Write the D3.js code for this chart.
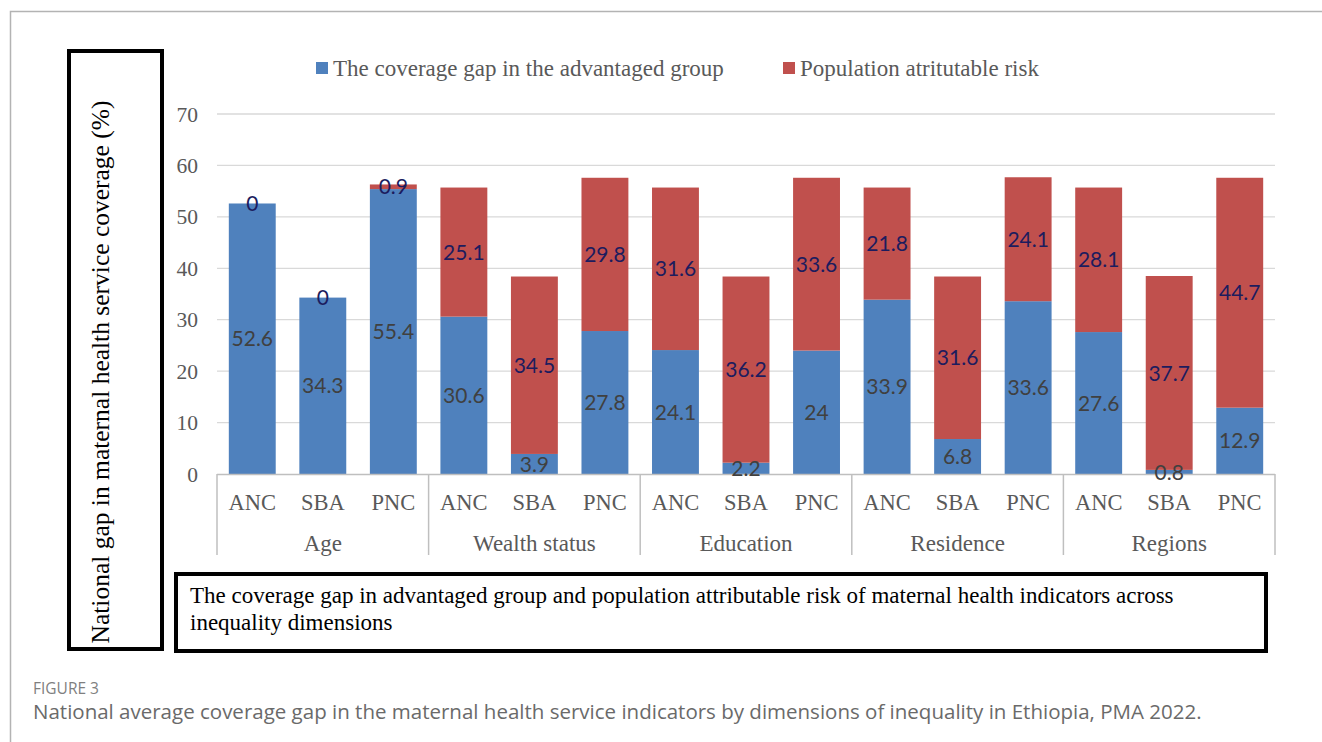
<!DOCTYPE html>
<html>
<head>
<meta charset="utf-8">
<script src="https://cdn.jsdelivr.net/npm/d3@7"></script>
<style>
  body { margin: 0; background: #fff; }
  svg { display: block; }
</style>
</head>
<body>
<script>
// data
const groups = ['Age', 'Wealth status', 'Education', 'Residence', 'Regions']
const indicators = ['ANC', 'SBA', 'PNC']
const gapAdvantaged = [52.6, 34.3, 55.4, 30.6, 3.9, 27.8, 24.1, 2.2, 24, 33.9, 6.8, 33.6, 27.6, 0.8, 12.9]
const attributableRisk = [0, 0, 0.9, 25.1, 34.5, 29.8, 31.6, 36.2, 33.6, 21.8, 31.6, 24.1, 28.1, 37.7, 44.7]
const yTicks = [0, 10, 20, 30, 40, 50, 60, 70]
const seriesNames = ['The coverage gap in the advantaged group', 'Population atritutable risk']

const width = 1322
const height = 742
const colors = { gap: '#4f81bd', par: '#c0504d' }
const serif = '"Liberation Serif", "Times New Roman", serif'

const rows = []
groups.forEach((g, gi) => {
  indicators.forEach((ind, ii) => {
    const k = gi * indicators.length + ii
    rows.push({ key: g + '|' + ind, group: g, ind, gap: gapAdvantaged[k], par: attributableRisk[k] })
  })
})

const svg = d3.select('body').append('svg').attr('width', width).attr('height', height)

// outer page frame (only top/left visible)
svg.append('rect')
  .attr('x', 10.5).attr('y', 11.5).attr('width', 1400).attr('height', 800)
  .attr('fill', 'none').attr('stroke', '#b3b3b3').attr('stroke-width', 1.5)

const x = d3.scaleBand().domain(rows.map((d) => d.key)).range([217, 1275]).paddingInner(0.335).paddingOuter(0.1675)
const y = d3.scaleLinear().domain([0, 70]).range([474, 114])

// gridlines
svg.append('g')
  .selectAll('line')
  .data(yTicks.slice(1))
  .join('line')
  .attr('x1', 217).attr('x2', 1275)
  .attr('y1', (d) => y(d)).attr('y2', (d) => y(d))
  .attr('stroke', '#d9d9d9').attr('stroke-width', 1.3)

// y tick labels
svg.append('g')
  .style('font', `21.5px ${serif}`)
  .attr('fill', '#595959')
  .selectAll('text')
  .data(yTicks)
  .join('text')
  .attr('x', 198)
  .attr('y', (d) => y(d))
  .attr('dy', '0.35em')
  .attr('text-anchor', 'end')
  .text((d) => d)

// stacked bars
const stack = d3.stack().keys(['gap', 'par'])(rows)
svg.append('g')
  .selectAll('g')
  .data(stack)
  .join('g')
  .attr('fill', (s) => colors[s.key])
  .selectAll('rect')
  .data((s) => s)
  .join('rect')
  .attr('x', (d) => x(d.data.key))
  .attr('width', x.bandwidth())
  .attr('y', (d) => y(d[1]))
  .attr('height', (d) => y(d[0]) - y(d[1]))

// x axis line + group separators
svg.append('line')
  .attr('x1', 217).attr('x2', 1275).attr('y1', 474.5).attr('y2', 474.5)
  .attr('stroke', '#bfbfbf').attr('stroke-width', 1.5)

const groupStep = x.step() * indicators.length
svg.append('g')
  .selectAll('line')
  .data(d3.range(groups.length + 1))
  .join('line')
  .attr('x1', (i) => 217 + i * groupStep).attr('x2', (i) => 217 + i * groupStep)
  .attr('y1', 474).attr('y2', 555)
  .attr('stroke', '#bfbfbf').attr('stroke-width', 1.5)

// category labels
svg.append('g')
  .style('font', `22.5px ${serif}`)
  .attr('fill', '#595959')
  .attr('text-anchor', 'middle')
  .selectAll('text')
  .data(rows)
  .join('text')
  .attr('x', (d) => x(d.key) + x.bandwidth() / 2)
  .attr('y', 502)
  .attr('dy', '0.35em')
  .text((d) => d.ind)

svg.append('g')
  .style('font', `23px ${serif}`)
  .attr('fill', '#595959')
  .attr('text-anchor', 'middle')
  .selectAll('text')
  .data(groups)
  .join('text')
  .attr('x', (d, i) => 217 + (i + 0.5) * groupStep)
  .attr('y', 543)
  .attr('dy', '0.35em')
  .text((d) => d)

// data labels
const labelFont = '21px Lato, "Open Sans", sans-serif'
svg.append('g')
  .style('font', labelFont)
  .attr('text-anchor', 'middle')
  .selectAll('text')
  .data(stack.flatMap((s) => s.map((d) => ({ key: s.key, d }))))
  .join('text')
  .attr('x', (o) => x(o.d.data.key) + x.bandwidth() / 2)
  .attr('y', (o) => y((o.d[0] + o.d[1]) / 2))
  .attr('dy', '0.36em')
  .attr('fill', (o) => (o.key === 'gap' ? '#404040' : '#1c1c5e'))
  .text((o) => o.d.data[o.key])

// legend
const legend = svg.append('g').style('font', `23px ${serif}`).attr('fill', '#595959')
const legendX = [316, 783]
seriesNames.forEach((name, i) => {
  legend.append('rect')
    .attr('x', legendX[i]).attr('y', 62).attr('width', 12).attr('height', 12)
    .attr('fill', i === 0 ? colors.gap : colors.par)
  legend.append('text')
    .attr('x', legendX[i] + 17).attr('y', 68).attr('dy', '0.35em')
    .text(name)
})

// y title box
svg.append('rect')
  .attr('x', 69).attr('y', 51).attr('width', 93).attr('height', 598)
  .attr('fill', 'none').attr('stroke', '#000').attr('stroke-width', 4)
svg.append('text')
  .attr('transform', 'translate(100,372) rotate(-90)')
  .attr('text-anchor', 'middle')
  .attr('dy', '0.35em')
  .style('font', `25.5px ${serif}`)
  .attr('fill', '#000')
  .text('National gap in maternal health service coverage (%)')

// note box below the chart
svg.append('rect')
  .attr('x', 176).attr('y', 574).attr('width', 1090).attr('height', 77)
  .attr('fill', 'none').attr('stroke', '#000').attr('stroke-width', 4)
const note = svg.append('text').style('font', `23px ${serif}`).attr('fill', '#000')
note.append('tspan').attr('x', 190).attr('y', 603)
  .text('The coverage gap in advantaged group and population attributable risk of maternal health indicators across')
note.append('tspan').attr('x', 190).attr('y', 630).text('inequality dimensions')

// figure caption
svg.append('text')
  .attr('x', 33).attr('y', 694)
  .style('font', '15.5px "Open Sans", sans-serif')
  .attr('fill', '#7f7f7f')
  .text('FIGURE 3')
svg.append('text')
  .attr('x', 33).attr('y', 719)
  .style('font', '20.5px "Open Sans", sans-serif')
  .attr('fill', '#6a6a6a')
  .text('National average coverage gap in the maternal health service indicators by dimensions of inequality in Ethiopia, PMA 2022.')
</script>
</body>
</html>
